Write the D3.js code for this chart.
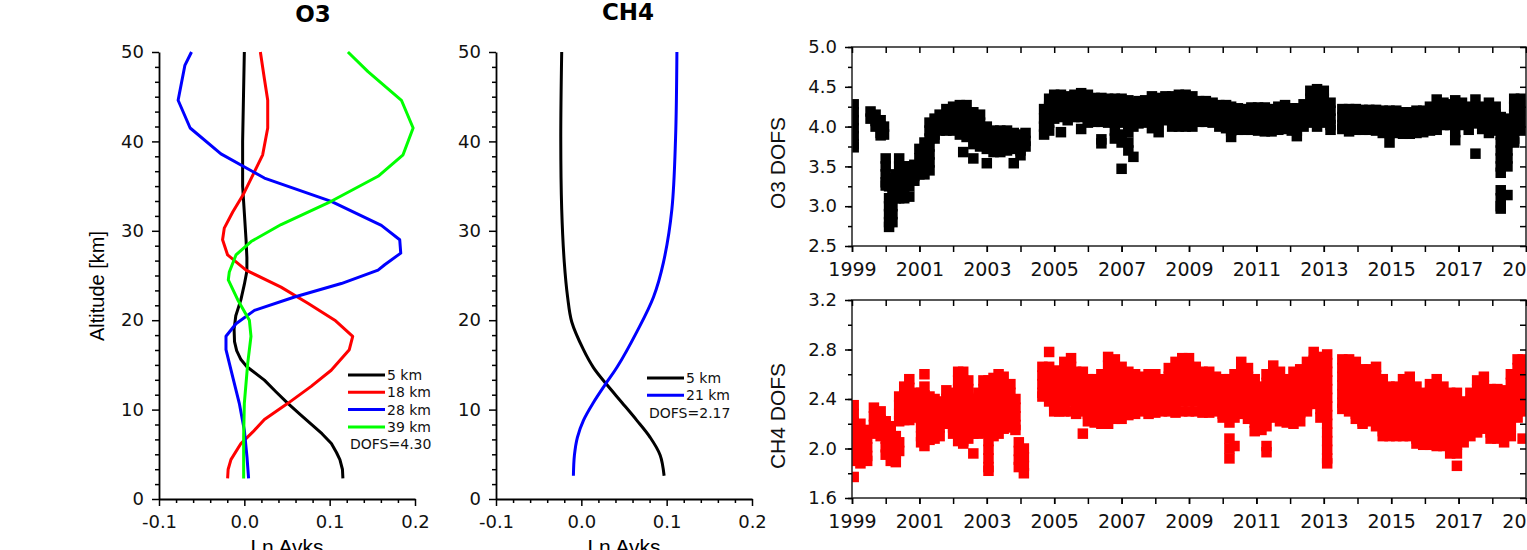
<!DOCTYPE html>
<html>
<head>
<meta charset="utf-8">
<script src="https://cdn.jsdelivr.net/npm/d3@7"></script>
<style>
  html, body { margin: 0; padding: 0; background: #fff; overflow: hidden; }
  svg { display: block; }
</style>
</head>
<body>
<svg id="chart" width="1527" height="550"></svg>
<script>
// ========= Data: averaging kernels [altitude km, Ln Avks]
const o3Ak5km = [[2.3,0.1155],[3.3,0.115],[4.4,0.112],[5.2,0.108],[6.2,0.102],[7.3,0.091],[8.4,0.078],[9.5,0.065],[10.7,0.051],[12,0.037],[13.3,0.0235],[14.8,0.003],[15.6,-0.004],[16.6,-0.009],[17.6,-0.0115],[19,-0.012],[20.5,-0.01],[22.3,-0.004],[24,0],[25.5,0.003],[27,0.003],[29,0.002],[32,0],[35,-0.002],[40,-0.002],[45,-0.001],[50,0]];
const o3Ak18km = [[2.3,-0.0196],[3.3,-0.019],[4.4,-0.0157],[6.2,-0.004],[7.5,0.01],[8.9,0.0235],[10.7,0.051],[12.6,0.0783],[14.4,0.1018],[16.7,0.123],[18.2,0.127],[20,0.106],[21.9,0.0745],[23.7,0.043],[25.6,0.002],[27.3,-0.0196],[29,-0.0255],[30.3,-0.0235],[32.1,-0.0136],[34,-0.0016],[36.6,0.0118],[38.5,0.0215],[41.5,0.0274],[44.6,0.0274],[47,0.0235],[50,0.0188]];
const o3Ak28km = [[2.3,0.005],[4.7,0.0031],[7.7,0],[10.7,-0.0059],[13.7,-0.0137],[16.7,-0.0215],[18.2,-0.0215],[19.6,-0.0098],[21.1,0.0118],[22.6,0.0588],[24.1,0.1136],[25.6,0.1567],[26.2,0.1645],[27.5,0.1833],[29,0.1821],[30.6,0.1606],[33.3,0.1018],[35.9,0.0235],[38.6,-0.0274],[41.5,-0.0635],[44.6,-0.0776],[48.5,-0.0697],[50,-0.0619]];
const o3Ak39km = [[2.3,-0.0008],[7,-0.0008],[10.7,0],[15.2,0.004],[18.2,0.0078],[20,0.0059],[22.3,-0.0078],[24.5,-0.0188],[25.4,-0.0176],[27.3,-0.0098],[28.8,0.0079],[30.7,0.0431],[33.3,0.1018],[36.1,0.1567],[38.5,0.186],[41.5,0.1978],[44.6,0.1841],[47.8,0.1449],[50,0.1214]];
const ch4Ak5km = [[2.6,0.097],[4.9,0.0924],[6.9,0.0806],[8.8,0.065],[10.8,0.0475],[12.8,0.0298],[14.7,0.0142],[16.7,0.0025],[19.8,-0.0112],[22.6,-0.0161],[26.5,-0.02],[32.4,-0.023],[40.3,-0.0241],[50,-0.023]];
const ch4Ak21km = [[2.6,-0.0093],[4.9,-0.0081],[6.9,-0.0046],[8.8,0.0025],[10.8,0.0142],[12.8,0.0279],[14.7,0.0416],[18.7,0.065],[22.6,0.0846],[26.5,0.0963],[32.4,0.1061],[40.3,0.1104],[50,0.112]];

const o3Labels = ["5 km", "18 km", "28 km", "39 km"];
const ch4Labels = ["5 km", "21 km"];
const o3Dofs = "DOFS=4.30";
const ch4Dofs = "DOFS=2.17";

// ========= Data: DOFS time series, each row = [decimal year, values observed around that date...]
const o3DofsObs = [
  [1999.05, 4.28, 4.18, 4.08, 3.98, 3.88, 3.78, 3.74],
  [1999.55, 4.19, 4.1], [1999.7, 4.15, 4.07, 4.0], [1999.85, 4.08, 4.0, 3.92, 3.89], [1999.95, 4.0, 3.9],
  [2000.0, 3.6, 3.5, 3.4, 3.3, 3.26], [2000.1, 3.35, 3.25, 3.1, 3.0, 2.9, 2.8, 2.74],
  [2000.2, 3.35, 3.25, 3.15, 3.0, 2.9, 2.8], [2000.3, 3.4, 3.3, 3.2, 3.1],
  [2000.4, 3.6, 3.5, 3.4, 3.3, 3.2, 3.1], [2000.55, 3.5, 3.4, 3.3, 3.2, 3.1],
  [2000.7, 3.5, 3.42, 3.35, 3.25, 3.12], [2000.85, 3.52, 3.45, 3.38, 3.32],
  [2001.0, 3.72, 3.6, 3.5, 3.4], [2001.15, 3.8, 3.7, 3.6, 3.5, 3.4],
  [2001.3, 4.05, 3.95, 3.85, 3.75, 3.65, 3.55, 3.45], [2001.45, 4.1, 4.0, 3.9, 3.85],
  [2001.6, 4.15, 4.05, 3.95], [2001.8, 4.22, 4.12, 4.02, 3.95], [2002.0, 4.25, 4.15, 4.05, 3.95],
  [2002.2, 4.27, 4.17, 4.07, 3.97, 3.9], [2002.3, 3.68], [2002.4, 4.27, 4.17, 4.07, 3.97, 3.87],
  [2002.6, 4.18, 4.08, 3.98, 3.88, 3.78, 3.6], [2002.8, 4.15, 4.05, 3.95, 3.85, 3.75],
  [2003.0, 4.0, 3.9, 3.8, 3.72, 3.54], [2003.2, 3.95, 3.85, 3.75, 3.68], [2003.4, 3.95, 3.85, 3.75, 3.68],
  [2003.6, 3.95, 3.85, 3.75, 3.7], [2003.8, 3.92, 3.82, 3.72, 3.54], [2004.0, 3.9, 3.8, 3.7, 3.64],
  [2004.15, 3.92, 3.82, 3.75],
  [2004.7, 4.22, 4.1, 4.0, 3.9], [2004.85, 4.35, 4.25, 4.15, 4.05, 3.95],
  [2005.0, 4.4, 4.3, 4.2, 4.1], [2005.2, 4.4, 4.3, 4.2, 4.12, 3.93], [2005.4, 4.38, 4.28, 4.18, 4.08],
  [2005.6, 4.4, 4.3, 4.2, 4.12], [2005.8, 4.42, 4.32, 4.22, 4.12, 3.97],
  [2006.0, 4.4, 4.3, 4.2, 4.1, 4.05], [2006.2, 4.36, 4.26, 4.16, 4.06], [2006.4, 4.36, 4.26, 4.16, 4.06, 3.84, 3.79],
  [2006.6, 4.35, 4.25, 4.15, 4.05], [2006.8, 4.35, 4.25, 4.15, 4.05, 3.95, 3.85],
  [2007.0, 4.35, 4.25, 4.15, 4.05, 3.9, 3.8, 3.47], [2007.2, 4.33, 4.23, 4.13, 4.03, 3.93, 3.8, 3.7],
  [2007.35, 4.3, 4.2, 4.1, 4.0, 3.62], [2007.5, 4.32, 4.22, 4.12, 4.04], [2007.7, 4.33, 4.23, 4.13, 4.05],
  [2007.9, 4.38, 4.28, 4.18, 4.08, 3.98], [2008.1, 4.36, 4.26, 4.16, 4.06, 3.93],
  [2008.3, 4.38, 4.28, 4.18, 4.08], [2008.5, 4.38, 4.28, 4.18, 4.08, 4.0], [2008.7, 4.4, 4.3, 4.2, 4.1, 4.0],
  [2008.9, 4.4, 4.3, 4.2, 4.1, 4.0], [2009.1, 4.38, 4.28, 4.18, 4.08, 4.0],
  [2009.3, 4.32, 4.22, 4.12, 4.06], [2009.5, 4.32, 4.22, 4.12, 4.06], [2009.7, 4.3, 4.2, 4.1, 4.05],
  [2009.9, 4.27, 4.17, 4.07, 4.0], [2010.1, 4.27, 4.17, 4.07, 3.98], [2010.25, 4.25, 4.15, 4.05, 3.95, 3.87],
  [2010.45, 4.23, 4.13, 4.03, 3.96], [2010.65, 4.22, 4.12, 4.02, 3.96], [2010.85, 4.24, 4.14, 4.04, 3.96],
  [2011.05, 4.24, 4.14, 4.04, 3.95], [2011.25, 4.24, 4.14, 4.04, 3.94], [2011.45, 4.22, 4.12, 4.02, 3.94],
  [2011.65, 4.25, 4.15, 4.05, 3.96], [2011.85, 4.27, 4.17, 4.07, 3.97], [2012.05, 4.23, 4.13, 4.03, 3.95],
  [2012.2, 4.23, 4.13, 4.03, 3.95, 3.88], [2012.4, 4.28, 4.18, 4.08, 4.0],
  [2012.6, 4.45, 4.35, 4.25, 4.15, 4.05], [2012.8, 4.47, 4.37, 4.27, 4.17, 4.07, 4.0],
  [2013.0, 4.45, 4.35, 4.25, 4.15, 4.05], [2013.2, 4.3, 4.2, 4.1, 4.02, 3.96],
  [2013.55, 4.22, 4.12, 4.02, 3.97], [2013.75, 4.22, 4.12, 4.02, 3.94], [2013.95, 4.22, 4.12, 4.02, 3.96],
  [2014.15, 4.21, 4.11, 4.01, 3.96], [2014.35, 4.21, 4.11, 4.01, 3.96], [2014.55, 4.21, 4.11, 4.01, 3.95],
  [2014.75, 4.2, 4.1, 4.0, 3.92], [2014.95, 4.2, 4.1, 4.0, 3.92, 3.8], [2015.15, 4.2, 4.1, 4.0, 3.92],
  [2015.35, 4.18, 4.08, 3.98, 3.91], [2015.55, 4.18, 4.08, 3.98, 3.91], [2015.75, 4.2, 4.1, 4.0, 3.92],
  [2015.95, 4.2, 4.1, 4.0, 3.93], [2016.15, 4.25, 4.15, 4.05, 3.95], [2016.35, 4.34, 4.24, 4.14, 4.04, 3.96],
  [2016.55, 4.3, 4.2, 4.1, 4.02], [2016.75, 4.28, 4.18, 4.08, 4.02], [2016.9, 4.33, 4.23, 4.13, 4.03, 3.93, 3.83],
  [2017.1, 4.3, 4.2, 4.1, 4.02], [2017.3, 4.25, 4.15, 4.05, 3.96], [2017.5, 4.34, 4.24, 4.14, 4.04, 3.66],
  [2017.7, 4.25, 4.15, 4.05, 3.97], [2017.9, 4.3, 4.2, 4.1, 4.0, 3.92], [2018.1, 4.25, 4.15, 4.05, 3.95],
  [2018.25, 4.12, 4.0, 3.9, 3.8, 3.7, 3.6, 3.5, 3.42, 3.2, 3.1, 3.0, 2.97],
  [2018.45, 4.1, 4.0, 3.9, 3.8, 3.7, 3.6, 3.5, 3.14],
  [2018.65, 4.35, 4.25, 4.15, 4.05, 3.95, 3.85, 3.8], [2018.85, 4.35, 4.25, 4.15, 4.05, 3.95]
];

const ch4DofsObs = [
  [1999.05, 2.35, 2.28, 2.21, 2.14, 2.07, 2.0, 1.93, 1.9, 1.77],
  [1999.25, 2.2, 2.13, 2.06, 1.99, 1.92, 1.88], [1999.45, 2.15, 2.08, 2.01, 1.94, 1.9],
  [1999.65, 2.33, 2.26, 2.19, 2.12], [1999.85, 2.3, 2.23, 2.16, 2.1],
  [2000.0, 2.22, 2.15, 2.08, 2.01, 1.95], [2000.15, 2.18, 2.11, 2.04, 1.97, 1.9], [2000.3, 2.1, 2.03, 1.96, 1.89],
  [2000.4, 2.42, 2.35, 2.28, 2.22, 2.05, 1.98], [2000.55, 2.5, 2.43, 2.36, 2.29, 2.23],
  [2000.7, 2.56, 2.49, 2.42, 2.35, 2.28, 2.23], [2000.85, 2.45, 2.38, 2.31, 2.25],
  [2001.05, 2.45, 2.38, 2.31, 2.24, 2.17, 2.1, 2.05], [2001.15, 2.6, 2.5, 2.43, 2.36, 2.29, 2.22, 2.15, 2.08, 2.02],
  [2001.3, 2.42, 2.35, 2.28, 2.21, 2.14, 2.07], [2001.45, 2.4, 2.33, 2.26, 2.19, 2.12, 2.08],
  [2001.6, 2.38, 2.31, 2.24, 2.17, 2.1], [2001.8, 2.47, 2.4, 2.33, 2.26, 2.2],
  [2002.0, 2.45, 2.38, 2.31, 2.24, 2.17, 2.12], [2002.15, 2.62, 2.55, 2.48, 2.41, 2.34, 2.27, 2.2, 2.13, 2.06],
  [2002.3, 2.62, 2.55, 2.48, 2.41, 2.34, 2.27, 2.2, 2.13, 2.06, 2.04], [2002.45, 2.55, 2.48, 2.41, 2.34, 2.27, 2.2, 2.13, 2.08],
  [2002.6, 2.4, 2.33, 2.26, 2.19, 2.12, 1.96], [2002.75, 2.45, 2.38, 2.31, 2.24, 2.17, 2.12],
  [2002.9, 2.55, 2.48, 2.41, 2.34, 2.27, 2.2, 2.13],
  [2003.05, 2.55, 2.48, 2.41, 2.34, 2.27, 2.2, 2.13, 2.06, 1.99, 1.92, 1.85, 1.82],
  [2003.2, 2.57, 2.5, 2.43, 2.36, 2.29, 2.22, 2.15, 2.1], [2003.35, 2.6, 2.53, 2.46, 2.39, 2.32, 2.25, 2.18, 2.12],
  [2003.5, 2.58, 2.51, 2.44, 2.37, 2.3, 2.23, 2.16], [2003.7, 2.52, 2.45, 2.38, 2.31, 2.24, 2.17],
  [2003.85, 2.4, 2.33, 2.26, 2.19, 2.15], [2003.95, 2.05, 1.98, 1.91, 1.85], [2004.1, 2.0, 1.93, 1.86, 1.8],
  [2004.65, 2.66, 2.59, 2.52, 2.45, 2.42], [2004.85, 2.78, 2.66, 2.59, 2.52, 2.45, 2.38],
  [2005.0, 2.63, 2.56, 2.49, 2.42, 2.35, 2.3], [2005.15, 2.6, 2.53, 2.46, 2.39, 2.32, 2.3],
  [2005.3, 2.7, 2.63, 2.56, 2.49, 2.42, 2.35, 2.3], [2005.5, 2.73, 2.66, 2.59, 2.52, 2.45, 2.38, 2.3],
  [2005.65, 2.62, 2.55, 2.48, 2.41, 2.34, 2.28], [2005.85, 2.62, 2.55, 2.48, 2.41, 2.34, 2.3, 2.12],
  [2006.0, 2.56, 2.49, 2.42, 2.35, 2.28, 2.22], [2006.2, 2.56, 2.49, 2.42, 2.35, 2.28, 2.21],
  [2006.4, 2.6, 2.53, 2.46, 2.39, 2.32, 2.25, 2.2], [2006.6, 2.74, 2.67, 2.6, 2.53, 2.46, 2.39, 2.32, 2.25, 2.2],
  [2006.8, 2.72, 2.65, 2.58, 2.51, 2.44, 2.37, 2.3, 2.24], [2007.0, 2.66, 2.59, 2.52, 2.45, 2.38, 2.31, 2.24],
  [2007.2, 2.62, 2.55, 2.48, 2.41, 2.34, 2.27], [2007.4, 2.6, 2.53, 2.46, 2.39, 2.32, 2.28],
  [2007.6, 2.58, 2.51, 2.44, 2.37, 2.3], [2007.8, 2.6, 2.53, 2.46, 2.39, 2.32, 2.28],
  [2008.0, 2.6, 2.53, 2.46, 2.39, 2.32, 2.29], [2008.2, 2.56, 2.49, 2.42, 2.35, 2.3],
  [2008.4, 2.65, 2.58, 2.51, 2.44, 2.37, 2.3], [2008.6, 2.7, 2.63, 2.56, 2.49, 2.42, 2.35, 2.29],
  [2008.8, 2.73, 2.66, 2.59, 2.52, 2.45, 2.38, 2.3], [2009.0, 2.73, 2.66, 2.59, 2.52, 2.45, 2.38, 2.3],
  [2009.2, 2.66, 2.59, 2.52, 2.45, 2.38, 2.3], [2009.4, 2.62, 2.55, 2.48, 2.41, 2.34, 2.29],
  [2009.6, 2.62, 2.55, 2.48, 2.41, 2.34, 2.29], [2009.8, 2.58, 2.51, 2.44, 2.37, 2.3],
  [2010.0, 2.56, 2.49, 2.42, 2.35, 2.28, 2.25], [2010.2, 2.56, 2.49, 2.42, 2.35, 2.28, 2.21, 2.08, 2.0, 1.92],
  [2010.35, 2.6, 2.53, 2.46, 2.39, 2.32, 2.25, 2.02], [2010.55, 2.7, 2.63, 2.56, 2.49, 2.42, 2.35, 2.28],
  [2010.75, 2.65, 2.58, 2.51, 2.44, 2.37, 2.3, 2.24], [2010.95, 2.56, 2.49, 2.42, 2.35, 2.28, 2.21, 2.14],
  [2011.15, 2.5, 2.43, 2.36, 2.29, 2.22, 2.15], [2011.3, 2.6, 2.53, 2.46, 2.39, 2.32, 2.25, 2.18, 2.02, 1.97],
  [2011.5, 2.67, 2.6, 2.53, 2.46, 2.39, 2.32, 2.25], [2011.7, 2.62, 2.55, 2.48, 2.41, 2.34, 2.27, 2.22],
  [2011.9, 2.56, 2.49, 2.42, 2.35, 2.28, 2.21], [2012.1, 2.62, 2.55, 2.48, 2.41, 2.34, 2.27, 2.2],
  [2012.3, 2.64, 2.57, 2.5, 2.43, 2.36, 2.29, 2.22], [2012.5, 2.7, 2.63, 2.56, 2.49, 2.42, 2.35, 2.3],
  [2012.7, 2.78, 2.71, 2.64, 2.57, 2.5, 2.43, 2.36], [2012.9, 2.74, 2.67, 2.6, 2.53, 2.46, 2.39, 2.32, 2.25],
  [2013.1, 2.76, 2.69, 2.62, 2.55, 2.48, 2.41, 2.34, 2.27, 2.2, 2.13, 2.06, 1.99, 1.92, 1.88],
  [2013.55, 2.72, 2.65, 2.58, 2.51, 2.44, 2.37, 2.32], [2013.75, 2.72, 2.65, 2.58, 2.51, 2.44, 2.37, 2.3],
  [2013.95, 2.7, 2.63, 2.56, 2.49, 2.42, 2.35, 2.28, 2.24], [2014.15, 2.64, 2.57, 2.5, 2.43, 2.36, 2.29, 2.22, 2.2],
  [2014.35, 2.64, 2.57, 2.5, 2.43, 2.36, 2.29, 2.22], [2014.55, 2.66, 2.59, 2.52, 2.45, 2.38, 2.31, 2.24, 2.18],
  [2014.75, 2.56, 2.49, 2.42, 2.35, 2.28, 2.21, 2.14, 2.1], [2014.95, 2.5, 2.43, 2.36, 2.29, 2.22, 2.15, 2.1],
  [2015.15, 2.5, 2.43, 2.36, 2.29, 2.22, 2.15, 2.1], [2015.35, 2.56, 2.49, 2.42, 2.35, 2.28, 2.21, 2.14, 2.1],
  [2015.55, 2.58, 2.51, 2.44, 2.37, 2.3, 2.23, 2.16, 2.1], [2015.75, 2.5, 2.43, 2.36, 2.29, 2.22, 2.15, 2.08, 2.04],
  [2015.95, 2.45, 2.38, 2.31, 2.24, 2.17, 2.1, 2.03], [2016.15, 2.52, 2.45, 2.38, 2.31, 2.24, 2.17, 2.1, 2.03],
  [2016.35, 2.56, 2.49, 2.42, 2.35, 2.28, 2.21, 2.14, 2.07, 2.02], [2016.55, 2.5, 2.43, 2.36, 2.29, 2.22, 2.15, 2.08, 2.02],
  [2016.75, 2.45, 2.38, 2.31, 2.24, 2.17, 2.1, 2.03, 1.96], [2016.95, 2.45, 2.38, 2.31, 2.24, 2.17, 2.1, 2.03, 1.96, 1.86],
  [2017.15, 2.38, 2.31, 2.24, 2.17, 2.1, 2.05], [2017.35, 2.45, 2.38, 2.31, 2.24, 2.17, 2.1],
  [2017.55, 2.55, 2.48, 2.41, 2.34, 2.27, 2.2, 2.13], [2017.75, 2.58, 2.51, 2.44, 2.37, 2.3, 2.23, 2.16],
  [2017.95, 2.48, 2.41, 2.34, 2.27, 2.2, 2.13, 2.08], [2018.15, 2.48, 2.41, 2.34, 2.27, 2.2, 2.13, 2.08],
  [2018.35, 2.47, 2.4, 2.33, 2.26, 2.19, 2.12, 2.05], [2018.55, 2.6, 2.53, 2.46, 2.39, 2.32, 2.25, 2.18, 2.1],
  [2018.75, 2.72, 2.65, 2.58, 2.51, 2.44, 2.37, 2.3, 2.25], [2018.9, 2.72, 2.65, 2.58, 2.51, 2.44, 2.37, 2.3, 2.08]
];

// ========= Tick values
const altTicks = [0, 10, 20, 30, 40, 50];
const lnTicks = [-0.1, 0.0, 0.1, 0.2];
const yearTicks = [1999, 2001, 2003, 2005, 2007, 2009, 2011, 2013, 2015, 2017, 2019];
const o3DofsTicks = [2.5, 3.0, 3.5, 4.0, 4.5, 5.0];
const ch4DofsTicks = [1.6, 2.0, 2.4, 2.8, 3.2];

// ========= Setup
const svg = d3.select("#chart");
const tickFont = "'DejaVu Sans', sans-serif";
const labelFont = "'Liberation Sans', Arial, sans-serif";
const fmt1 = d => d.toFixed(1);

function styleAxis(g, size) {
    g.select(".domain").attr("stroke", "#000").attr("stroke-width", 1.8);
    g.selectAll(".tick line").attr("stroke", "#000").attr("stroke-width", 1.5);
    g.selectAll(".tick text").attr("fill", "#111").style("font-family", tickFont).style("font-size", size + "px");
}

// ========= Kernel profile panels
function drawProfile({ left, title, titleX, titleY, curves, labels, dofs, legX, legY, dofsY }) {
    const x = d3.scaleLinear().domain([-0.1, 0.2]).range([left, left + 256]);
    const y = d3.scaleLinear().domain([0, 50]).range([499, 52]);
    const g = svg.append("g");

    // minor ticks
    const xMinor = d3.range(-0.1, 0.2001, 0.02).filter(v => Math.abs(v * 10 - Math.round(v * 10)) > 1e-6);
    const yMinor = d3.range(0, 50.001, 10 / 6).filter(v => Math.abs(v / 10 - Math.round(v / 10)) > 1e-6);
    g.append("g").attr("transform", `translate(0,${y(0)})`)
        .call(d3.axisBottom(x).tickValues(xMinor).tickSize(4).tickFormat(""))
        .call(s => { s.select(".domain").remove(); styleAxis(s, 18); });
    g.append("g").attr("transform", `translate(${x(-0.1)},0)`)
        .call(d3.axisLeft(y).tickValues(yMinor).tickSize(4).tickFormat(""))
        .call(s => { s.select(".domain").remove(); styleAxis(s, 18); });

    g.append("g").attr("transform", `translate(0,${y(0)})`)
        .call(d3.axisBottom(x).tickValues(lnTicks).tickSize(7).tickSizeOuter(0).tickPadding(9).tickFormat(fmt1))
        .call(s => styleAxis(s, 18));
    g.append("g").attr("transform", `translate(${x(-0.1)},0)`)
        .call(d3.axisLeft(y).tickValues(altTicks).tickSize(7).tickSizeOuter(0).tickPadding(8))
        .call(s => styleAxis(s, 18));

    const line = d3.line().x(d => x(d[1])).y(d => y(d[0])).curve(curves.curve);
    curves.series.forEach(c => {
        g.append("path").datum(c.data)
            .attr("fill", "none").attr("stroke", c.color).attr("stroke-width", 3)
            .attr("stroke-linejoin", "round").attr("d", line);
    });

    g.append("text").attr("x", titleX).attr("y", titleY).attr("text-anchor", "middle")
        .style("font-family", tickFont).style("font-weight", "bold").style("font-size", "23px").text(title);

    g.append("text").attr("x", left + 128).attr("y", 554).attr("text-anchor", "middle")
        .style("font-family", labelFont).style("font-size", "21px").text("Ln Avks");

    // legend
    const leg = g.append("g");
    curves.series.forEach((c, i) => {
        const ly = legY + i * 17.3;
        leg.append("line").attr("x1", legX).attr("x2", legX + 37).attr("y1", ly).attr("y2", ly)
            .attr("stroke", c.color).attr("stroke-width", 3);
        leg.append("text").attr("x", legX + 39).attr("y", ly + 5)
            .style("font-family", tickFont).style("font-size", "14px").attr("fill", "#111").text(labels[i]);
    });
    leg.append("text").attr("x", legX + 2).attr("y", dofsY + 5)
        .style("font-family", tickFont).style("font-size", "14px").attr("fill", "#111").text(dofs);
}

drawProfile({
    left: 159, title: "O3", titleX: 313, titleY: 22,
    curves: {
        curve: d3.curveLinear,
        series: [
            { data: o3Ak5km, color: "#000000" },
            { data: o3Ak18km, color: "#ff0000" },
            { data: o3Ak28km, color: "#0000ff" },
            { data: o3Ak39km, color: "#00ff00" }
        ]
    },
    labels: o3Labels, dofs: o3Dofs, legX: 348, legY: 375, dofsY: 444
});

drawProfile({
    left: 496, title: "CH4", titleX: 628, titleY: 20,
    curves: {
        curve: d3.curveCatmullRom.alpha(0.5),
        series: [
            { data: ch4Ak5km, color: "#000000" },
            { data: ch4Ak21km, color: "#0000ff" }
        ]
    },
    labels: ch4Labels, dofs: ch4Dofs, legX: 647, legY: 378, dofsY: 413
});

svg.append("text").attr("transform", "translate(104,286) rotate(-90)").attr("text-anchor", "middle")
    .style("font-family", labelFont).style("font-size", "20px").text("Altitude [km]");

// ========= DOFS time series panels
function drawSeries({ top, bottom, domain, ticks, minorStep, obs, color, label, labelY, id }) {
    const x = d3.scaleLinear().domain([1999, 2019]).range([852, 1526]);
    const y = d3.scaleLinear().domain(domain).range([bottom, top]);
    const g = svg.append("g");

    const years = d3.range(1999, 2019.5, 1);
    const yMinor = d3.range(domain[0], domain[1] + 1e-6, minorStep);

    g.append("clipPath").attr("id", id).append("rect")
        .attr("x", 852).attr("y", top).attr("width", 674).attr("height", bottom - top);

    const pts = obs.flatMap(r => r.slice(1).map(v => [r[0], v]));
    const s = 10.5;
    g.append("g").attr("clip-path", `url(#${id})`)
        .selectAll("rect").data(pts).join("rect")
        .attr("x", d => x(d[0]) - s / 2).attr("y", d => y(d[1]) - s / 2)
        .attr("width", s).attr("height", s).attr("fill", color);

    // frame
    g.append("rect").attr("x", 852).attr("y", top).attr("width", 674).attr("height", bottom - top)
        .attr("fill", "none").attr("stroke", "#222").attr("stroke-width", 1.5);

    // bottom axis
    g.append("g").attr("transform", `translate(0,${bottom})`)
        .call(d3.axisBottom(x).tickValues(years).tickSize(6).tickFormat(""))
        .call(a => { a.select(".domain").remove(); styleAxis(a, 19); });
    g.append("g").attr("transform", `translate(0,${bottom})`)
        .call(d3.axisBottom(x).tickValues(yearTicks).tickSize(6).tickSizeOuter(0).tickPadding(11).tickFormat(d3.format("d")))
        .call(a => { a.select(".domain").remove(); styleAxis(a, 19); });
    // top axis (inward)
    g.append("g").attr("transform", `translate(0,${top})`)
        .call(d3.axisTop(x).tickValues(years).tickSize(-6).tickFormat(""))
        .call(a => { a.select(".domain").remove(); styleAxis(a, 19); });

    // left axis
    g.append("g").attr("transform", "translate(852,0)")
        .call(d3.axisLeft(y).tickValues(yMinor).tickSize(4).tickFormat(""))
        .call(a => { a.select(".domain").remove(); styleAxis(a, 18); });
    g.append("g").attr("transform", "translate(852,0)")
        .call(d3.axisLeft(y).tickValues(ticks).tickSize(7).tickSizeOuter(0).tickPadding(8).tickFormat(fmt1))
        .call(a => { a.select(".domain").remove(); styleAxis(a, 18); });
    // right axis (inward)
    g.append("g").attr("transform", "translate(1526,0)")
        .call(d3.axisRight(y).tickValues(yMinor).tickSize(-6).tickFormat(""))
        .call(a => { a.select(".domain").remove(); styleAxis(a, 18); });

    svg.append("text").attr("transform", `translate(785,${labelY}) rotate(-90)`).attr("text-anchor", "middle")
        .style("font-family", labelFont).style("font-size", "21px").attr("fill", "#111").text(label);
}

drawSeries({ top: 47, bottom: 246, domain: [2.5, 5.0], ticks: o3DofsTicks, minorStep: 0.25,
    obs: o3DofsObs, color: "#000000", label: "O3 DOFS", labelY: 163, id: "clipO3" });
drawSeries({ top: 300, bottom: 498, domain: [1.6, 3.2], ticks: ch4DofsTicks, minorStep: 0.2,
    obs: ch4DofsObs, color: "#ff0000", label: "CH4 DOFS", labelY: 416, id: "clipCH4" });
</script>
</body>
</html>
